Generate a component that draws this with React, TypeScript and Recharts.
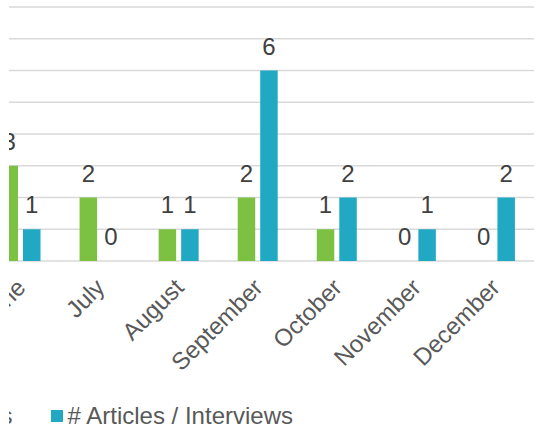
import React from 'react';
import { BarChart, Bar, XAxis, YAxis, CartesianGrid, LabelList } from 'recharts';

// data (left part of the chart is cropped)
const months = ['June', 'July', 'August', 'September', 'October', 'November', 'December'];
const events = [3, 2, 1, 2, 1, 0, 0];
const articles = [1, 0, 1, 6, 2, 1, 2];
const seriesNames = ['# Events', '# Articles / Interviews'];
const seriesColors = ['#7dc142', '#21a9c3'];
const yTicks = [0, 1, 2, 3, 4, 5, 6, 7, 8];

const data = months.map((m, i) => ({ month: m, events: events[i], articles: articles[i] }));

const FONT = 'Arial, "Liberation Sans", sans-serif';

const MonthTick = (props: any) => {
  const { x, y, payload } = props;
  const ax = x + 7;
  const ay = y + 28;
  return (
    <text
      x={ax}
      y={ay}
      transform={`rotate(-45, ${ax}, ${ay})`}
      textAnchor="end"
      fill="#595959"
      fontSize={24}
      fontFamily={FONT}
    >
      {payload.value}
    </text>
  );
};

// draws the value above the bar, also for zero values
const ValueLabel = (props: any) => {
  const { x, y, width, height, value } = props;
  if (value === undefined || value === null) return null;
  const top = Math.min(y, y + height);
  return (
    <text
      x={x + width / 2}
      y={top - 16}
      textAnchor="middle"
      fill="#404040"
      fontSize={24}
      fontFamily={FONT}
    >
      {value}
    </text>
  );
};

export default function App() {
  return (
    <div style={{ position: 'fixed', left: 0, top: 0, width: 536, height: 436, background: '#fff' }}>
      <div style={{ position: 'absolute', left: 9, top: 0, width: 527, height: 436, overflow: 'hidden' }}>
        <div style={{ position: 'absolute', left: -40, top: 0 }}>
          <BarChart
            width={576}
            height={436}
            data={data}
            margin={{ top: 7, right: 11, bottom: 75, left: 11.5 }}
            barSize={17.5}
            barGap={5}
          >
            <CartesianGrid vertical={false} stroke="#d9d9d9" strokeWidth={1.5} />
            <YAxis hide domain={[0, 8]} ticks={yTicks} />
            <XAxis
              dataKey="month"
              axisLine={false}
              tickLine={false}
              tickSize={0}
              tickMargin={0}
              interval={0}
              height={100}
              tick={<MonthTick />}
            />
            <Bar dataKey="events" name={seriesNames[0]} fill={seriesColors[0]} minPointSize={0.01} isAnimationActive={false}>
              <LabelList dataKey="events" content={<ValueLabel />} />
            </Bar>
            <Bar dataKey="articles" name={seriesNames[1]} fill={seriesColors[1]} minPointSize={0.01} isAnimationActive={false}>
              <LabelList dataKey="articles" content={<ValueLabel />} />
            </Bar>
          </BarChart>
        </div>
        <div
          style={{
            position: 'absolute',
            right: 243,
            top: 402,
            display: 'flex',
            gap: 38,
            whiteSpace: 'nowrap',
            fontFamily: FONT,
            fontSize: 24,
            color: '#595959',
          }}
        >
          {seriesNames.map((name, i) => (
            <div key={name} style={{ display: 'flex', alignItems: 'center', gap: 5 }}>
              <span style={{ display: 'inline-block', width: 12, height: 12, background: seriesColors[i] }} />
              <span>{name}</span>
            </div>
          ))}
        </div>
      </div>
    </div>
  );
}
